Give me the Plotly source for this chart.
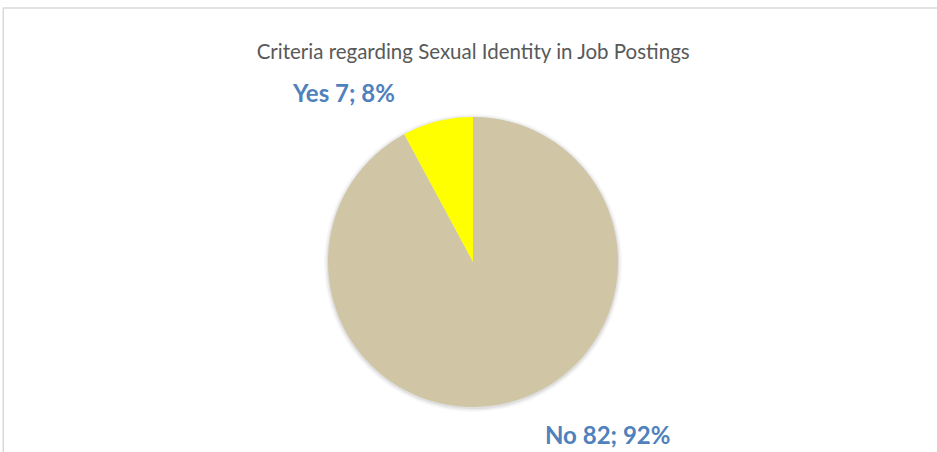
import plotly.graph_objects as go

labels = ["No", "Yes"]
values = [82, 7]
colors = ["#D0C6A6", "#FFFF00"]
title = "Criteria regarding Sexual Identity in Job Postings"

total = sum(values)
pcts = [round(v * 100 / total) for v in values]

W, H = 937, 452
dom_x = [0.350, 0.6596]
dom_y = [0.0996, 0.7412]

fig = go.Figure()

# soft drop shadow behind the pie (a few faint, slightly larger discs)
for grow, alpha in [(4, 0.03), (2.5, 0.04), (1.2, 0.06)]:
    dx, dy = grow / W, grow / H
    fig.add_trace(go.Pie(
        values=[1], sort=False, textinfo="none", hoverinfo="skip",
        marker=dict(colors=[f"rgba(0,0,0,{alpha})"], line=dict(width=0)),
        domain=dict(x=[dom_x[0] - dx, dom_x[1] + dx],
                    y=[dom_y[0] - dy - 1 / H, dom_y[1] + dy - 1 / H]),
        showlegend=False,
    ))

fig.add_trace(go.Pie(
    labels=labels, values=values, sort=False, direction="clockwise",
    rotation=0, marker=dict(colors=colors, line=dict(width=0)),
    textinfo="none", hoverinfo="label+value+percent",
    domain=dict(x=dom_x, y=dom_y),
    showlegend=False,
))

# data labels placed like the original (outside the slices)
label_pos = {"Yes": (0.367, 0.796), "No": (0.648, 0.038)}
for lab, v, p in zip(labels, values, pcts):
    x, y = label_pos[lab]
    fig.add_annotation(x=x, y=y, xref="paper", yref="paper", showarrow=False,
                       xanchor="center", yanchor="middle",
                       text=f"<b>{lab} {v}; {p}%</b>",
                       font=dict(family="Lato", size=24, color="#4F81BD"))

fig.add_shape(type="rect", xref="paper", yref="paper",
              x0=0.0035, x1=1.02, y0=-0.05, y1=1 - 8 / H,
              line=dict(color="#D9D9D9", width=1.5))

fig.update_layout(
    width=W, height=H,
    margin=dict(l=0, r=0, t=0, b=0),
    paper_bgcolor="white", plot_bgcolor="white",
    title=dict(text=title, x=0.505, xanchor="center", y=1 - 52 / H, yanchor="middle",
               font=dict(family="Lato", size=20.5, color="#595959")),
)

# drop the browser's default body margin so the figure sits at (0, 0)
fig.write_html("out.html", config={"displayModeBar": False},
               post_script="document.body.style.margin='0';")
